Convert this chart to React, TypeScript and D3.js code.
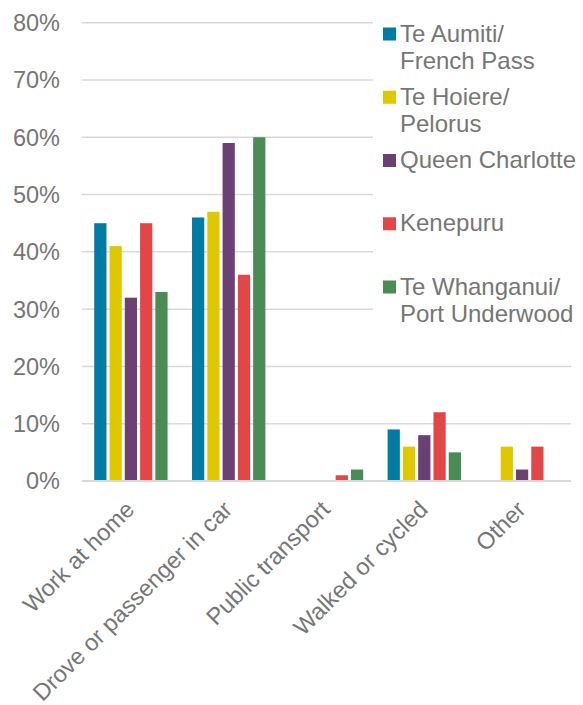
import React from "react";
import * as d3 from "d3";

const categories = ["Work at home", "Drove or passenger in car", "Public transport", "Walked or cycled", "Other"];
const seriesNames = ["Te Aumiti/\nFrench Pass", "Te Hoiere/\nPelorus", "Queen Charlotte", "Kenepuru", "Te Whanganui/\nPort Underwood"];
const seriesColors = ["#007BA4", "#DFC800", "#6B4073", "#E34646", "#4A8B56"];

// percent values per series, in category order
const frenchPass = [45, 46, 0, 9, 0];
const pelorus = [41, 47, 0, 6, 6];
const queenCharlotte = [32, 59, 0, 8, 2];
const kenepuru = [45, 36, 1, 12, 6];
const portUnderwood = [33, 60, 2, 5, 0];
const seriesValues = [frenchPass, pelorus, queenCharlotte, kenepuru, portUnderwood];

const yTicks = [0, 10, 20, 30, 40, 50, 60, 70, 80];

const width = 583;
const height = 705;
const margin = { top: 22.7, right: 12, bottom: 224, left: 82 };
const textColor = "#767676";
const gridColor = "#D9D9D9";
const font = "'Liberation Sans', Arial, sans-serif";

export default function App() {
  const x0 = d3
    .scaleBand()
    .domain(categories)
    .range([margin.left, width - margin.right])
    .paddingInner(0.25)
    .paddingOuter(0.125);

  const x1 = d3
    .scaleBand()
    .domain(seriesNames)
    .range([0, x0.bandwidth()])
    .paddingInner(0.2);

  const y = d3.scaleLinear().domain([0, 80]).range([height - margin.bottom, margin.top]);

  // legend rows
  const legendY = d3.scalePoint().domain(seriesNames).range([33, 286]);

  return (
    <svg
      width={width}
      height={height}
      style={{ position: "absolute", left: 0, top: 0, background: "#fff" }}
      fontFamily={font}
    >
      {/* gridlines */}
      {yTicks.map((t) => (
        <line
          key={t}
          x1={margin.left}
          x2={width - margin.right}
          y1={y(t)}
          y2={y(t)}
          stroke={gridColor}
          strokeWidth={t === 0 ? 2 : 1.5}
        />
      ))}

      {/* y labels */}
      {yTicks.map((t) => (
        <text
          key={"l" + t}
          x={60}
          y={y(t)}
          dy="0.36em"
          textAnchor="end"
          fontSize={23.5}
          fill={textColor}
        >
          {t + "%"}
        </text>
      ))}

      {/* bars */}
      {categories.map((c, ci) => (
        <g key={c} transform={`translate(${x0(c)},0)`}>
          {seriesNames.map((s, si) => {
            const v = seriesValues[si][ci];
            if (!v) return null;
            return (
              <rect
                key={s}
                x={x1(s)}
                y={y(v)}
                width={x1.bandwidth()}
                height={y(0) - y(v)}
                fill={seriesColors[si]}
              />
            );
          })}
        </g>
      ))}

      <line
        x1={margin.left}
        x2={width - margin.right}
        y1={y(0)}
        y2={y(0)}
        stroke={gridColor}
        strokeWidth={2}
      />

      {/* x labels, rotated */}
      {categories.map((c) => {
        const cx = (x0(c) as number) + x0.bandwidth() / 2;
        return (
          <text
            key={"x" + c}
            transform={`translate(${cx - 7},${499}) rotate(-45)`}
            textAnchor="end"
            dy="0.72em"
            fontSize={23.5}
            fill={textColor}
          >
            {c}
          </text>
        );
      })}

      {/* legend */}
      <rect x={373} y={8} width={210} height={332} fill="#fff" />
      {seriesNames.map((s, i) => {
        const ly = legendY(s) as number;
        const lines = s.split("\n");
        return (
          <g key={"lg" + s}>
            <rect x={383} y={ly - 5.5} width={13} height={13} fill={seriesColors[i]} />
            {lines.map((ln, li) => (
              <text
                key={li}
                x={400}
                y={ly + li * 27.5}
                dy="0.36em"
                fontSize={24}
                fill={textColor}
              >
                {ln}
              </text>
            ))}
          </g>
        );
      })}
    </svg>
  );
}
